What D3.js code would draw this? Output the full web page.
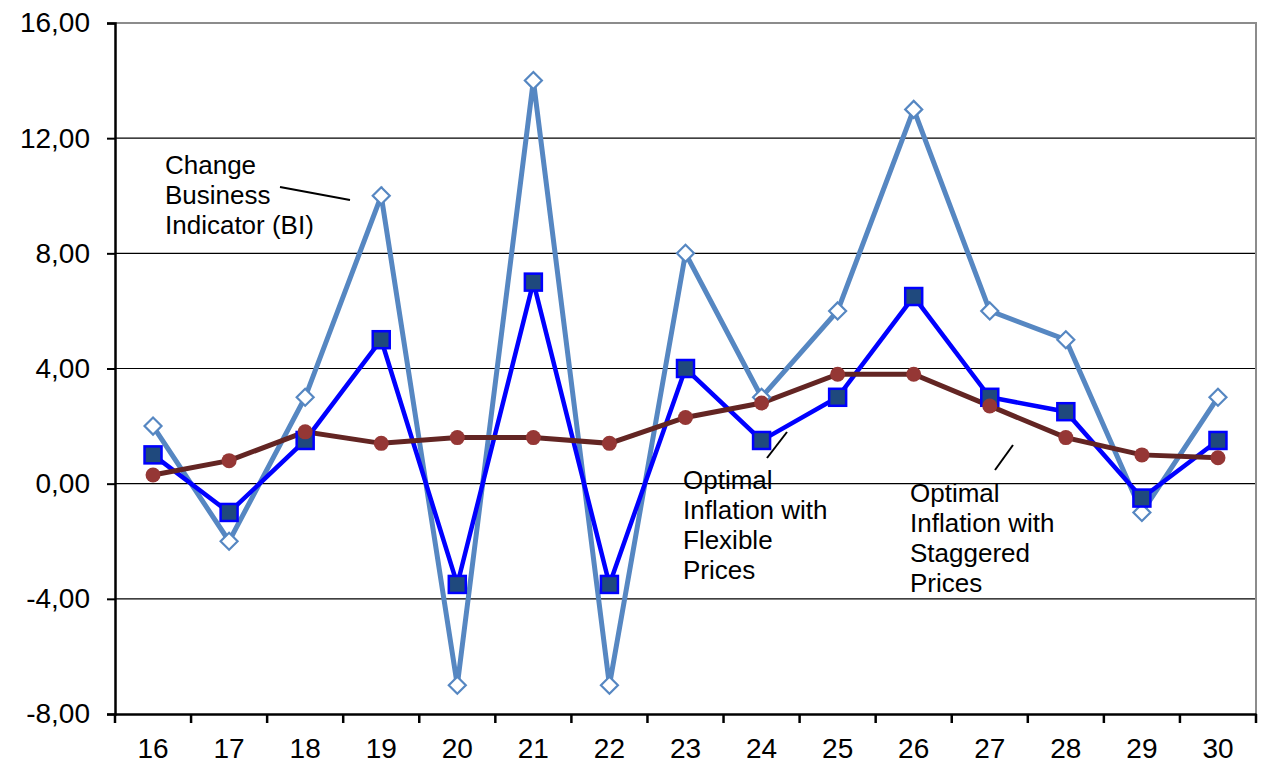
<!DOCTYPE html>
<html>
<head>
<meta charset="utf-8">
<script src="https://cdn.jsdelivr.net/npm/d3@7"></script>
<style>
  body { margin: 0; background: #fff; }
  svg { display: block; font-family: "Liberation Sans", Arial, sans-serif; }
</style>
</head>
<body>
<div id="chart"></div>
<script>
// Periods on the x axis
const periods = ["16", "17", "18", "19", "20", "21", "22", "23", "24", "25", "26", "27", "28", "29", "30"];

// Change Business Indicator (BI)
const biValues = [2, -2, 3, 10, -7, 14, -7, 8, 3, 6, 13, 6, 5, -1, 3];
// Optimal inflation with flexible prices
const flexibleValues = [1, -1, 1.5, 5, -3.5, 7, -3.5, 4, 1.5, 3, 6.5, 3, 2.5, -0.5, 1.5];
// Optimal inflation with staggered prices
const staggeredValues = [0.3, 0.8, 1.8, 1.4, 1.6, 1.6, 1.4, 2.3, 2.8, 3.8, 3.8, 2.7, 1.6, 1.0, 0.9];

const yTicks = [-8, -4, 0, 4, 8, 12, 16];

drawChart();

function drawChart() {
    const totalWidth = 1261;
    const totalHeight = 769;
    const margin = { top: 23, right: 5, bottom: 55, left: 115 };
    const width = totalWidth - margin.left - margin.right;
    const height = totalHeight - margin.top - margin.bottom;

    const svg = d3.select("#chart")
        .append("svg")
        .attr("width", totalWidth)
        .attr("height", totalHeight)
        .append("g")
        .attr("transform", `translate(${margin.left},${margin.top})`);

    const xScale = d3.scaleBand()
        .domain(periods)
        .range([0, width]);

    const yScale = d3.scaleLinear()
        .domain([-8, 16])
        .range([height, 0]);

    const xPos = i => xScale(periods[i]) + xScale.bandwidth() / 2;

    // Horizontal gridlines
    svg.selectAll(".grid")
        .data(yTicks.filter(t => t > -8 && t < 16))
        .enter()
        .append("line")
        .attr("x1", 0)
        .attr("x2", width)
        .attr("y1", d => yScale(d))
        .attr("y2", d => yScale(d))
        .attr("stroke", "#000")
        .attr("stroke-width", 1.2);

    // Plot frame top and right (gray)
    svg.append("path")
        .attr("d", `M0,${yScale(16)}H${width}V${height}`)
        .attr("fill", "none")
        .attr("stroke", "#8c8c8c")
        .attr("stroke-width", 2);

    // Y axis - comma decimals and plain hyphen for minus
    const yAxis = svg.append("g")
        .call(d3.axisLeft(yScale)
            .tickValues(yTicks)
            .tickSize(8)
            .tickPadding(17)
            .tickFormat(d => d.toFixed(2).replace(".", ",")));
    yAxis.select(".domain").attr("stroke", "#000").attr("stroke-width", 2.5);
    yAxis.selectAll(".tick line").attr("stroke", "#000").attr("stroke-width", 2);
    yAxis.selectAll("text")
        .attr("font-size", 28)
        .attr("fill", "#000")
        .attr("font-family", "Liberation Sans, Arial, sans-serif");

    // X axis with ticks between categories
    const xAxis = svg.append("g")
        .attr("transform", `translate(0,${height})`)
        .call(d3.axisBottom(xScale).tickSize(0).tickPadding(24));
    xAxis.select(".domain").attr("stroke", "#000").attr("stroke-width", 2.5);
    xAxis.selectAll("text")
        .attr("font-size", 28)
        .attr("fill", "#000")
        .attr("font-family", "Liberation Sans, Arial, sans-serif");
    xAxis.selectAll(".boundary")
        .data(d3.range(periods.length + 1))
        .enter()
        .append("line")
        .attr("x1", i => i * xScale.step())
        .attr("x2", i => i * xScale.step())
        .attr("y1", 0)
        .attr("y2", 9)
        .attr("stroke", "#000")
        .attr("stroke-width", 2.5);

    const line = d3.line()
        .x((d, i) => xPos(i))
        .y(d => yScale(d));

    // BI series
    svg.append("path")
        .datum(biValues)
        .attr("fill", "none")
        .attr("stroke", "#5687c2")
        .attr("stroke-width", 5)
        .attr("d", line);

    // Flexible series
    svg.append("path")
        .datum(flexibleValues)
        .attr("fill", "none")
        .attr("stroke", "#0000ff")
        .attr("stroke-width", 4.5)
        .attr("d", line);

    // Staggered series
    svg.append("path")
        .datum(staggeredValues)
        .attr("fill", "none")
        .attr("stroke", "#632523")
        .attr("stroke-width", 5)
        .attr("d", line);

    // BI diamonds
    svg.selectAll(".diamond")
        .data(biValues)
        .enter()
        .append("path")
        .attr("d", "M0,-8.5L8.5,0L0,8.5L-8.5,0Z")
        .attr("transform", (d, i) => `translate(${xPos(i)},${yScale(d)})`)
        .attr("fill", "#fff")
        .attr("stroke", "#5687c2")
        .attr("stroke-width", 2.2);

    // Flexible squares
    svg.selectAll(".square")
        .data(flexibleValues)
        .enter()
        .append("rect")
        .attr("x", (d, i) => xPos(i) - 8.5)
        .attr("y", d => yScale(d) - 8.5)
        .attr("width", 17)
        .attr("height", 17)
        .attr("fill", "#1f497d")
        .attr("stroke", "#0000ff")
        .attr("stroke-width", 2.5);

    // Staggered dots
    svg.selectAll(".dot")
        .data(staggeredValues)
        .enter()
        .append("circle")
        .attr("cx", (d, i) => xPos(i))
        .attr("cy", d => yScale(d))
        .attr("r", 7.5)
        .attr("fill", "#953735");

    // Annotations
    const notes = [
        { lines: ["Change", "Business", "Indicator (BI)"], x: 50, y: 151, leader: [165, 164, 235, 177] },
        { lines: ["Optimal", "Inflation with", "Flexible", "Prices"], x: 568, y: 466, leader: [652, 435, 672, 409] },
        { lines: ["Optimal", "Inflation with", "Staggered", "Prices"], x: 795, y: 479, leader: [880, 447, 898, 422] }
    ];

    notes.forEach(function(n) {
        const t = svg.append("text")
            .attr("x", n.x)
            .attr("y", n.y)
            .attr("font-size", 26)
            .attr("fill", "#000");
        n.lines.forEach(function(l, k) {
            t.append("tspan")
                .attr("x", n.x)
                .attr("dy", k === 0 ? 0 : 30)
                .text(l);
        });
        svg.append("line")
            .attr("x1", n.leader[0])
            .attr("y1", n.leader[1])
            .attr("x2", n.leader[2])
            .attr("y2", n.leader[3])
            .attr("stroke", "#000")
            .attr("stroke-width", 2);
    });
}
</script>
</body>
</html>
